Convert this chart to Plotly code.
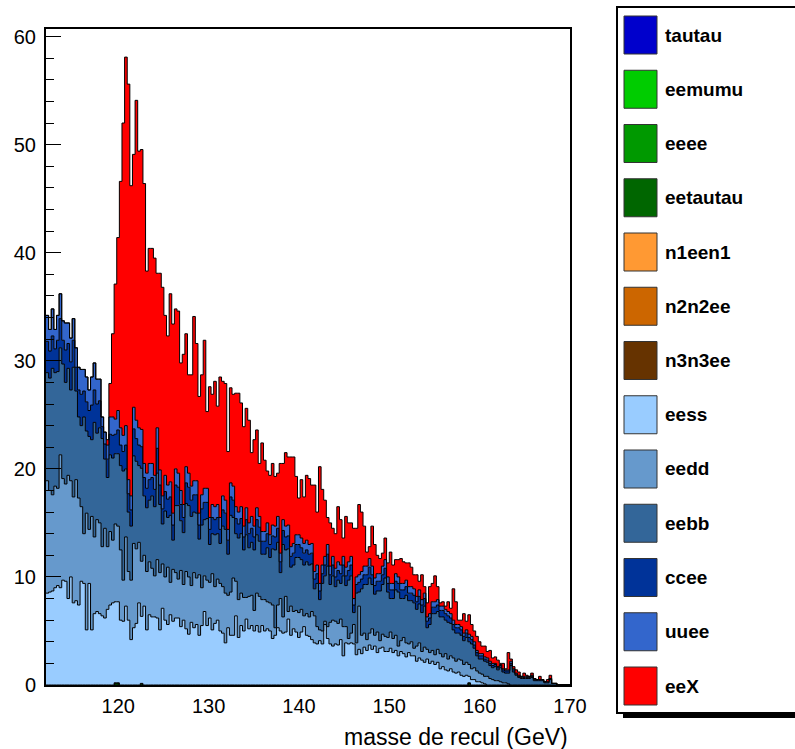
import plotly.graph_objects as go

# ---------------- data ----------------
bin_low = 112.0          # GeV, first bin edge
bin_width = 0.29         # GeV
n_bins = 200

# events per bin, one list per process (bins 0..n, trailing empty bins omitted)
eess = [
    8.5, 8.6, 8.7, 9.0, 9.2, 9.0, 9.7, 9.6, 8.0, 10.0,
    7.6, 7.8, 7.4, 9.6, 9.4, 5.1, 9.4, 5.1, 6.6, 6.8,
    6.6, 6.4, 6.2, 7.0, 7.4, 7.6, 7.5, 7.5, 6.0, 5.9,
    7.3, 6.0, 4.2, 5.3, 5.7, 7.6, 6.2, 7.3, 5.1, 6.5,
    6.3, 6.3, 6.2, 5.1, 7.1, 6.0, 5.6, 6.5, 5.9, 6.2,
    6.2, 5.4, 6.0, 5.2, 4.7, 5.8, 5.3, 5.6, 4.6, 5.5,
    6.8, 5.5, 6.2, 5.1, 5.7, 6.0, 5.0, 4.8, 3.9, 5.3,
    4.6, 4.6, 6.4, 4.4, 5.5, 5.0, 6.1, 5.2, 5.5, 5.0,
    5.5, 4.9, 5.5, 5.0, 5.2, 5.0, 4.3, 4.6, 5.3, 5.0,
    4.8, 4.9, 6.1, 4.6, 5.2, 4.9, 4.4, 4.9, 5.4, 4.6,
    4.5, 4.2, 3.9, 3.8, 4.1, 3.8, 5.6, 4.3, 3.8, 3.6,
    3.8, 3.7, 4.2, 2.7, 3.9, 3.8, 3.9, 3.8, 2.8, 3.3,
    2.9, 3.5, 3.2, 3.7, 3.3, 3.6, 3.0, 3.4, 3.5, 3.1,
    3.1, 3.4, 3.0, 3.2, 2.7, 3.1, 2.9, 2.6, 3.0, 2.7,
    2.7, 2.2, 2.5, 2.3, 2.1, 2.4, 2.0, 2.2, 1.9, 2.1,
    1.5, 1.7, 1.4, 1.3, 1.5, 1.2, 1.1, 1.2, 0.9, 0.8,
    0.9, 0.6, 0.5, 0.5, 0.3, 0.3, 0.2, 0.1, 0.0, 0.0,
]
eedd = [
    10.4, 9.4, 8.9, 9.4, 9.0, 12.3, 9.4, 9.0, 11.4, 8.9,
    9.8, 11.2, 9.9, 6.9, 4.6, 10.8, 5.0, 10.5, 7.1, 8.5,
    8.4, 6.4, 8.3, 5.8, 6.8, 5.8, 7.2, 7.0, 6.5, 3.8,
    6.4, 4.5, 5.5, 7.8, 6.9, 5.6, 5.1, 4.7, 5.4, 4.9,
    4.5, 3.8, 5.4, 5.3, 4.1, 4.0, 5.3, 3.0, 4.8, 4.2,
    3.6, 5.2, 3.3, 5.3, 5.3, 3.4, 5.1, 4.3, 5.6, 3.5,
    3.3, 4.2, 3.3, 5.2, 3.4, 3.8, 4.4, 4.3, 4.6, 3.0,
    4.0, 5.3, 3.2, 3.5, 3.0, 3.1, 2.0, 3.0, 2.8, 1.9,
    3.0, 3.3, 2.4, 2.9, 2.5, 2.6, 3.1, 0.7, 2.1, 3.0,
    1.5, 3.3, 0.7, 2.7, 1.6, 2.0, 2.3, 2.1, 1.0, 2.0,
    1.8, 2.6, 2.5, 1.6, 1.0, 1.2, 0.3, 1.1, 2.0, 2.4,
    2.1, 2.0, 1.9, 2.7, 1.5, 0.5, 0.9, 1.8, 1.1, 4.0,
    1.7, 1.3, 1.0, 1.1, 1.9, 1.0, 1.9, 0.7, 1.2, 1.4,
    1.3, 1.5, 1.3, 1.4, 0.9, 1.0, 1.5, 1.3, 0.8, 1.3,
    0.7, 1.4, 1.4, 0.8, 1.4, 0.9, 1.0, 1.0, 0.9, 1.2,
    1.4, 0.9, 1.5, 1.1, 1.2, 1.3, 1.1, 1.2, 1.4, 1.1,
    1.2, 1.1, 1.0, 1.1, 1.0, 0.8, 0.8, 0.7, 0.8, 0.6,
    0.5, 0.4, 0.4, 0.3, 0.2, 0.2, 0.1, 0.0, 0.0, 0.0,
]
eebb = [
    10.0, 10.4, 11.7, 10.5, 10.8, 9.9, 10.6, 9.4, 9.9, 8.4,
    12.0, 8.2, 7.5, 7.5, 10.8, 7.6, 8.6, 7.1, 10.6, 8.0,
    8.8, 10.0, 6.4, 6.4, 7.1, 7.6, 6.5, 6.7, 7.8, 10.1,
    6.3, 5.5, 5.0, 8.1, 8.1, 7.1, 8.6, 5.5, 5.9, 5.7,
    6.7, 6.4, 8.0, 6.3, 3.7, 6.1, 4.6, 6.2, 2.7, 6.2,
    6.8, 4.6, 4.8, 6.3, 6.6, 6.4, 5.6, 6.0, 3.3, 5.8,
    5.2, 5.7, 3.5, 3.7, 4.8, 4.2, 3.7, 5.6, 5.9, 3.8,
    7.1, 5.6, 4.4, 5.7, 5.5, 4.4, 5.8, 4.5, 4.9, 5.6,
    5.4, 5.1, 4.2, 4.2, 5.0, 4.2, 5.2, 7.2, 5.8, 2.4,
    6.7, 4.3, 5.8, 3.6, 4.3, 4.9, 5.1, 4.6, 4.7, 4.8,
    4.8, 4.4, 2.5, 4.0, 2.8, 4.4, 4.2, 5.6, 3.5, 4.1,
    3.2, 4.0, 3.3, 4.7, 3.8, 5.4, 5.3, 1.1, 4.6, 1.3,
    4.3, 4.5, 5.1, 5.1, 4.1, 3.8, 3.8, 4.6, 4.6, 5.4,
    4.2, 3.1, 3.7, 4.2, 5.0, 3.9, 3.6, 4.4, 4.0, 3.8,
    4.2, 3.4, 3.6, 3.6, 3.8, 2.0, 2.6, 3.4, 3.8, 3.5,
    3.4, 3.7, 3.1, 3.4, 3.0, 2.6, 2.6, 2.4, 2.3, 2.2,
    2.3, 2.1, 2.3, 1.8, 1.4, 1.3, 1.4, 1.4, 1.3, 1.2,
    1.1, 1.3, 1.0, 1.3, 1.0, 0.9, 1.0, 1.8, 1.2, 0.9,
    0.7, 0.6, 0.6, 0.6, 0.6, 0.7, 0.4, 0.4, 0.4, 0.4,
    0.2, 0.2, 0.5, 0.15, 0.15, 0.0, 0.0, 0.0, 0.0, 0.0,
]
ccee = [
    2.9, 2.5, 3.0, 2.2, 2.9, 2.7, 2.2, 3.0, 2.3, 2.6,
    2.5, 2.2, 2.5, 2.9, 2.4, 2.7, 2.4, 3.2, 3.0, 2.7,
    2.5, 1.1, 1.4, 1.7, 1.9, 2.1, 1.8, 2.2, 1.9, 1.8,
    2.2, 1.7, 1.5, 2.5, 2.1, 1.9, 2.0, 1.7, 1.8, 1.9,
    1.7, 1.6, 2.3, 1.8, 1.4, 1.8, 1.7, 1.7, 1.4, 1.9,
    1.7, 1.5, 1.4, 1.9, 1.7, 1.5, 1.6, 1.7, 1.3, 1.5,
    1.6, 1.5, 1.4, 1.5, 1.4, 1.5, 1.3, 1.5, 1.5, 1.3,
    1.7, 1.6, 1.4, 1.3, 1.4, 1.2, 1.4, 1.3, 1.3, 1.2,
    1.4, 1.3, 1.2, 1.2, 1.3, 1.2, 1.2, 1.2, 1.3, 1.0,
    1.3, 1.2, 1.2, 1.0, 1.1, 1.2, 1.2, 1.1, 1.1, 1.1,
    1.0, 1.0, 0.9, 0.9, 0.8, 0.9, 1.0, 1.1, 0.9, 1.0,
    0.9, 0.9, 0.9, 1.0, 0.9, 0.9, 1.0, 0.7, 0.8, 0.9,
    0.9, 0.9, 0.9, 1.0, 0.9, 0.8, 0.9, 0.9, 0.9, 0.9,
    0.8, 0.8, 0.8, 0.8, 0.8, 0.8, 0.8, 0.8, 0.7, 0.7,
    0.7, 0.7, 0.7, 0.7, 0.7, 0.6, 0.6, 0.6, 0.6, 0.6,
    0.6, 0.6, 0.6, 0.6, 0.5, 0.5, 0.5, 0.5, 0.5, 0.4,
    0.4, 0.4, 0.4, 0.3, 0.3, 0.3, 0.3, 0.2, 0.2, 0.2,
    0.2, 0.2, 0.2, 0.2, 0.2, 0.2, 0.2, 0.2, 0.2, 0.1,
    0.1, 0.1, 0.1, 0.1, 0.1, 0.1, 0.1, 0.1, 0.1, 0.1,
    0.1, 0.1, 0.1, 0.0, 0.0, 0.0, 0.0, 0.0, 0.0, 0.0,
]
uuee = [
    2.4, 2.0, 2.5, 1.8, 2.3, 2.3, 1.8, 2.5, 1.9, 2.2,
    2.0, 1.8, 2.1, 2.3, 2.0, 2.3, 1.9, 2.6, 2.5, 2.3,
    2.0, 0.9, 1.1, 1.3, 1.6, 1.7, 1.4, 1.8, 1.6, 1.5,
    1.8, 1.3, 1.3, 2.0, 1.7, 1.6, 1.6, 1.3, 1.4, 1.5,
    1.3, 1.3, 1.9, 1.4, 1.2, 1.5, 1.3, 1.4, 1.1, 1.5,
    1.3, 1.3, 1.2, 1.5, 1.3, 1.3, 1.3, 1.3, 1.1, 1.3,
    1.3, 1.3, 1.1, 1.2, 1.2, 1.2, 1.1, 1.3, 1.2, 1.0,
    1.3, 1.3, 1.1, 1.1, 1.1, 1.0, 1.1, 1.0, 1.1, 1.0,
    1.1, 1.0, 0.9, 0.9, 1.0, 0.9, 1.0, 1.0, 1.1, 0.8,
    1.0, 1.0, 1.0, 0.9, 0.9, 0.9, 0.9, 0.9, 0.9, 0.9,
    0.9, 0.9, 0.7, 0.8, 0.7, 0.8, 0.8, 0.9, 0.8, 0.8,
    0.8, 0.8, 0.8, 0.8, 0.8, 0.8, 0.8, 0.6, 0.7, 0.7,
    0.7, 0.8, 0.8, 0.8, 0.8, 0.7, 0.7, 0.7, 0.8, 0.8,
    0.6, 0.6, 0.6, 0.7, 0.6, 0.6, 0.6, 0.6, 0.6, 0.6,
    0.6, 0.5, 0.6, 0.5, 0.5, 0.4, 0.4, 0.5, 0.5, 0.5,
    0.4, 0.4, 0.4, 0.4, 0.4, 0.4, 0.3, 0.3, 0.3, 0.3,
    0.3, 0.3, 0.3, 0.3, 0.2, 0.2, 0.2, 0.2, 0.2, 0.2,
    0.2, 0.1, 0.1, 0.1, 0.1, 0.1, 0.1, 0.2, 0.1, 0.1,
    0.1, 0.1, 0.1, 0.1, 0.1, 0.1, 0.1, 0.0, 0.0, 0.0,
]
eeX = [
    0, 0, 0, 0, 0, 0, 0, 0, 0, 0,
    0, 0, 0, 0, 0, 0, 0, 0, 0, 0,
    0, 0, 0, 0.5, 3.1, 7.7, 12.5, 16.0, 22.8, 28.9,
    34.1, 36.6, 28.7, 23.4, 29.6, 25.6, 25.9, 25.9, 18.7, 19.9,
    19.9, 20.1, 14.3, 18.2, 19.3, 14.8, 13.8, 17.4, 17.5, 14.8,
    15.0, 11.8, 13.9, 12.3, 9.1, 10.3, 15.2, 12.7, 10.8, 11.1,
    13.7, 7.1, 12.1, 10.2, 11.6, 9.1, 13.0, 10.6, 10.8, 7.2,
    8.8, 8.5, 10.5, 11.0, 9.6, 9.2, 9.2, 9.5, 5.9, 8.0,
    7.2, 4.9, 8.2, 6.6, 4.8, 5.5, 5.7, 4.6, 4.0, 8.3,
    5.2, 6.8, 6.3, 8.3, 8.0, 5.4, 3.4, 5.4, 4.3, 6.0,
    6.1, 5.4, 8.0, 4.9, 10.8, 7.0, 5.2, 2.5, 4.0, 2.6,
    3.2, 5.1, 4.2, 1.7, 4.7, 3.6, 3.1, 6.5, 4.5, 6.5,
    5.5, 3.7, 1.3, 1.1, 3.7, 3.1, 1.7, 1.4, 1.2, 2.0,
    1.3, 2.9, 1.7, 1.3, 1.6, 2.3, 2.0, 1.6, 2.2, 1.8,
    1.3, 2.0, 0.8, 2.3, 0.6, 1.3, 2.5, 1.7, 2.4, 1.2,
    0.3, 0.4, 0.3, 0.9, 0.5, 2.9, 2.1, 0.4, 0.6, 1.8,
    0.8, 1.8, 1.1, 1.0, 1.3, 1.1, 0.7, 1.0, 0.6, 1.0,
    0.5, 0.6, 0.6, 0.1, 0.5, 0.1, 1.6, 0.2, 0.2, 0.3,
    0.3, 0.0, 0.3, 0.1, 0.0, 0.2, 0.0, 0.0, 0.3, 0.0,
    0.0, 0.2, 0.3, 0.0, 0.0, 0.0, 0.0, 0.0, 0.0, 0.0,
]
# processes that are almost empty: {bin index: events}
tautau_bins = {}
eemumu_bins = {}
eeee_bins = {161: 0.2}
eetautau_bins = {26: 0.2, 27: 0.2, 36: 0.15}
n1een1_bins = {}
n2n2ee_bins = {}
n3n3ee_bins = {}

# stacking order (bottom -> top) = legend order (top -> bottom)
process_names = ["tautau", "eemumu", "eeee", "eetautau", "n1een1", "n2n2ee",
                 "n3n3ee", "eess", "eedd", "eebb", "ccee", "uuee", "eeX"]
process_colors = ["#0000CC", "#00CC00", "#009900", "#006600", "#FF9933", "#CC6600",
                  "#663300", "#99CCFF", "#6699CC", "#336699", "#003399", "#3366CC",
                  "#FF0000"]

x_ticks = [120, 130, 140, 150, 160, 170]
y_ticks = [0, 10, 20, 30, 40, 50, 60]
x_title = "masse de recul (GeV)"

# ---------------- build ----------------
def pad(v):
    v = [float(a) for a in v]
    return v + [0.0] * (n_bins - len(v))

def from_sparse(d):
    v = [0.0] * n_bins
    for k, val in d.items():
        v[k] = val
    return v

values = {
    "tautau": from_sparse(tautau_bins), "eemumu": from_sparse(eemumu_bins),
    "eeee": from_sparse(eeee_bins), "eetautau": from_sparse(eetautau_bins),
    "n1een1": from_sparse(n1een1_bins), "n2n2ee": from_sparse(n2n2ee_bins),
    "n3n3ee": from_sparse(n3n3ee_bins),
    "eess": pad(eess), "eedd": pad(eedd), "eebb": pad(eebb),
    "ccee": pad(ccee), "uuee": pad(uuee), "eeX": pad(eeX),
}

edges = [bin_low + bin_width * i for i in range(n_bins + 1)]

FONT = "Liberation Sans, Arial, Helvetica, sans-serif"
fig = go.Figure()
cum = [0.0] * n_bins
for i, name in enumerate(process_names):
    cum = [c + v for c, v in zip(cum, values[name])]
    fig.add_trace(go.Scatter(
        x=edges, y=cum + [cum[-1]], mode="lines", name=name,
        line=dict(color="black", width=1, shape="hv"),
        fill="tozeroy" if i == 0 else "tonexty",
        fillcolor=process_colors[i], showlegend=False, hoverinfo="skip"))

# plot-area geometry (pixels)
W, H = 795, 749
L, R, T, B = 46, 570, 29, 685
pw, ph = R - L, B - T

def px(xp):
    return (xp - L) / pw

def py(yp):
    return (B - yp) / ph

shapes = []
annotations = []
# legend box with shadow
shapes.append(dict(type="rect", xref="paper", yref="paper",
                   x0=px(623), x1=px(800), y0=py(718), y1=py(713),
                   fillcolor="black", line=dict(width=0)))
shapes.append(dict(type="rect", xref="paper", yref="paper",
                   x0=px(617), x1=px(805), y0=py(713), y1=py(7),
                   fillcolor="white", line=dict(color="black", width=2)))
for i, name in enumerate(process_names):
    top = 16 + 54.25 * i
    shapes.append(dict(type="rect", xref="paper", yref="paper",
                       x0=px(624), x1=px(657), y0=py(top + 38), y1=py(top),
                       fillcolor=process_colors[i],
                       line=dict(color="#333333", width=1)))
    annotations.append(dict(xref="paper", yref="paper", x=px(663), y=py(top + 19),
                            xanchor="left", yanchor="middle", showarrow=False,
                            text="<b>%s</b>" % name,
                            font=dict(family=FONT, size=19, color="black")))
annotations.append(dict(xref="paper", yref="paper", x=1.0, y=py(737),
                        xanchor="right", yanchor="middle", showarrow=False,
                        text=x_title, font=dict(family=FONT, size=23, color="black")))

fig.update_layout(
    width=W, height=H,
    margin=dict(l=L, r=W - R, t=T, b=H - B, pad=0),
    paper_bgcolor="white", plot_bgcolor="white",
    font=dict(family=FONT, size=20, color="black"),
    shapes=shapes, annotations=annotations,
    xaxis=dict(range=[bin_low, 170], tickmode="array", tickvals=x_ticks,
               ticks="", showgrid=False, zeroline=False,
               showline=True, linecolor="black", linewidth=2, mirror=True,
               tickfont=dict(family=FONT, size=20, color="black"),
               ticklabelstandoff=2),
    yaxis=dict(range=[0, 60.7], tickmode="array", tickvals=y_ticks,
               ticks="inside", ticklen=15, tickwidth=1, tickcolor="black",
               minor=dict(tickmode="linear", tick0=0, dtick=2, ticks="inside",
                          ticklen=8, tickwidth=1, tickcolor="black"),
               showgrid=False, zeroline=False,
               showline=True, linecolor="black", linewidth=2, mirror=True,
               tickfont=dict(family=FONT, size=20, color="black"),
               ticklabelstandoff=4),
)

fig.write_html("out.html",
               config={"displayModeBar": False},
               post_script="document.body.style.margin='0px';"
                           "document.body.style.overflow='hidden';")
